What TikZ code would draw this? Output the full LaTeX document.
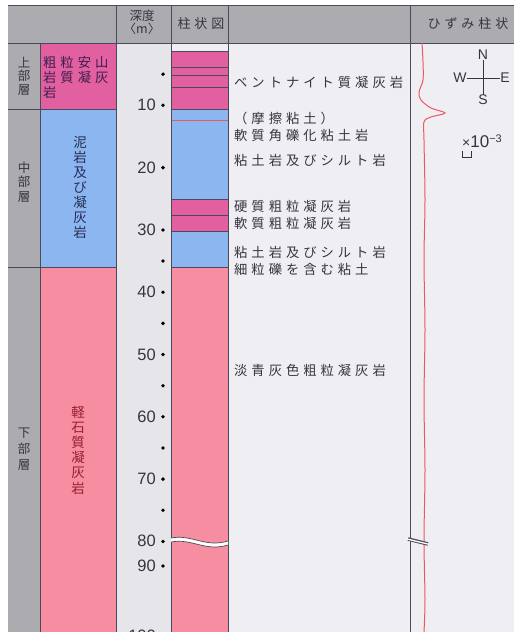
\documentclass[tikz,border=0pt]{standalone}
\usepackage{fontspec}
\newfontfamily\jp{Noto Sans CJK JP}
\newfontfamily\jpls[LetterSpace=30]{Noto Sans CJK JP}
\newfontfamily\num{Liberation Sans}
\definecolor{hdr}{HTML}{ABABB0}
\definecolor{bgc}{HTML}{EFEFF3}
\definecolor{depthc}{HTML}{E6E6EA}
\definecolor{mag}{HTML}{E2609F}
\definecolor{blu}{HTML}{8CB6F0}
\definecolor{sal}{HTML}{F68DA0}
\definecolor{lin}{HTML}{4A4A5A}
\definecolor{redc}{HTML}{F05560}
\definecolor{txt}{HTML}{353540}
\tikzset{
  desc/.style={anchor=west, inner sep=0, text=txt, font=\jpls\fontsize{13.3}{15}\selectfont},
  hdrtxt/.style={inner sep=0, text=txt, font=\jpls\fontsize{13}{15}\selectfont},
  vert/.style={inner sep=0, align=center},
  depthnum/.style={anchor=east, inner sep=0, text=txt, font=\num\fontsize{16.5}{16.5}\selectfont},
  sep/.style={draw=lin, line width=0.8pt},
  thin/.style={draw=lin, line width=0.5pt},
  compass/.style={inner sep=0, text=txt, font=\num\fontsize{14}{14}\selectfont}
}
\begin{document}
\begin{tikzpicture}[x=1pt,y=-1pt]
\useasboundingbox (0,0) rectangle (514,632);
\clip (0,0) rectangle (514,632);
\fill[white] (0,0) rectangle (514,632);
\fill[bgc] (8,5) rectangle (514,632);
% header and left column
\fill[hdr] (8,5) rectangle (514,43);
\fill[hdr] (8,43) rectangle (40,632);
\fill[depthc] (116,43) rectangle (171,632);
% lithology column
\fill[mag] (40,43) rectangle (116,109);
\fill[blu] (40,109) rectangle (116,267);
\fill[sal] (40,267) rectangle (116,632);
% columnar section
\fill[mag] (171,51) rectangle (228,109);
\fill[blu] (171,109) rectangle (228,199);
\fill[mag] (171,199) rectangle (228,231);
\fill[blu] (171,231) rectangle (228,267);
\fill[sal] (171,267) rectangle (228,632);
\foreach \yy in {51,67,75,87,109,199,215,231,267}{\draw[thin] (171,\yy) -- (228,\yy);}
\draw[redc, line width=0.8pt] (171,120) -- (228,120);
% frame lines
\draw[thin] (8,5) -- (514,5);
\draw[sep] (8,43) -- (514,43);
\draw[thin] (8,109) -- (116,109);
\draw[thin] (8,267) -- (116,267);
\foreach \xx in {116,171,228,410}{\draw[sep] (\xx,5) -- (\xx,632);}
\draw[sep] (40,43) -- (40,632);
% header texts
\node[inner sep=0, text=txt, font=\jp\fontsize{12.5}{12.5}\selectfont] (h1) at (142,16) {深度};
\node[inner sep=0, text=txt, font=\jp\fontsize{12.5}{12.5}\selectfont] (h2) at (142,29) {〈m〉};
\node[hdrtxt] (h3) at (201,24) {柱状図};
\node[hdrtxt] (h4) at (468,24) {ひずみ柱状};
% left column
\node[vert, text=txt, font=\jp\fontsize{12.5}{13.5}\selectfont] (l1) at (24,76) {上\\部\\層};
\node[vert, text=txt, font=\jp\fontsize{12.5}{14.5}\selectfont] (l2) at (24,182) {中\\部\\層};
\node[vert, text=txt, font=\jp\fontsize{12.5}{16}\selectfont] (l3) at (24,449) {下\\部\\層};
% lithology labels
\node[anchor=west, inner sep=0, align=left, text={rgb,255:red,60;green,30;blue,80}, font=\jpls\fontsize{13.3}{15}\selectfont] (r1) at (43,77) {粗粒安山\\岩質凝灰\\岩};
\node[vert, text={rgb,255:red,40;green,45;blue,85}, font=\jp\fontsize{13.5}{15}\selectfont] (r2) at (80,187) {泥\\岩\\及\\び\\凝\\灰\\岩};
\node[vert, text={rgb,255:red,150;green,30;blue,50}, font=\jp\fontsize{13.5}{15.2}\selectfont] (r3) at (78,450) {軽\\石\\質\\凝\\灰\\岩};
% depth scale
\foreach \d/\lab in {10/10,20/20,30/30,40/40,50/50,60/60,70/70}{
  \node[depthnum] (n\d) at (156,{43+6.23*\d}) {\lab};
}
\foreach \d in {5,10,20,30,35,40,45,50,55,60,65,70,75,80}{
  \fill[black] (163,{43+6.23*\d}) circle (1.9);
}
\node[depthnum] (n80) at (156,541) {80};
\node[depthnum] (n90) at (156,566) {90};
\fill[black] (163,566) circle (1.9);
\node[depthnum] (n100) at (156,636) {100};
\fill[black] (163,636) circle (1.9);
% descriptions
\node[desc] (d1) at (234,82) {ベントナイト質凝灰岩};
\node[desc] (d2) at (234,118) {（摩擦粘土）};
\node[desc] (d3) at (234,135) {軟質角礫化粘土岩};
\node[desc] (d4) at (234,160) {粘土岩及びシルト岩};
\node[desc] (d5) at (234,206) {硬質粗粒凝灰岩};
\node[desc] (d6) at (234,223) {軟質粗粒凝灰岩};
\node[desc] (d7) at (234,252) {粘土岩及びシルト岩};
\node[desc] (d8) at (234,269) {細粒礫を含む粘土};
\node[desc] (d9) at (234,370) {淡青灰色粗粒凝灰岩};
% break in columnar section
\fill[white] (171,538) .. controls (192,534) and (205,548) .. (228,541) -- (228,545) .. controls (205,552) and (192,538) .. (171,542) -- cycle;
\draw[lin, line width=0.7pt] (171,538) .. controls (192,534) and (205,548) .. (228,541);
\draw[lin, line width=0.7pt] (171,542) .. controls (192,538) and (205,552) .. (228,545);
% strain curve
\draw[redc, line width=1pt] plot[smooth, tension=0.55] coordinates {(422,43) (423,62) (423,80) (419,92) (421,100) (431,108) (445,113) (431,117) (424,122) (424,140) (425,200) (424,260) (425,330) (424,400) (425,470) (424,540) (425,600) (424,632)};
\draw[lin, line width=3.6pt] (408,539) -- (428,544);
\draw[white, line width=1.3pt] (407,539) -- (429,544.3);
% compass
\node[compass] (cn) at (483,55) {N};
\node[compass] (cs) at (483,100) {S};
\node[compass] (cw) at (460,78) {W};
\node[compass] (ce) at (505,78) {E};
\draw[txt, line width=0.7pt] (cw.east) -- (ce.west);
\draw[txt, line width=0.7pt] (cn.south) -- (cs.north);
% scale
\node[anchor=west, inner sep=0, text=txt, font=\num\fontsize{17}{17}\selectfont] (sc) at (462,141) {{\fontsize{14}{14}\selectfont ×}10\raisebox{5.5pt}{\fontsize{11}{11}\selectfont −3}};
\coordinate (b1) at (462,151);
\coordinate (b2) at (471,151);
\draw[txt, line width=0.8pt] (b1) -- (b1 |- 0,157) -- (b2 |- 0,157) -- (b2);
\end{tikzpicture}
\end{document}
